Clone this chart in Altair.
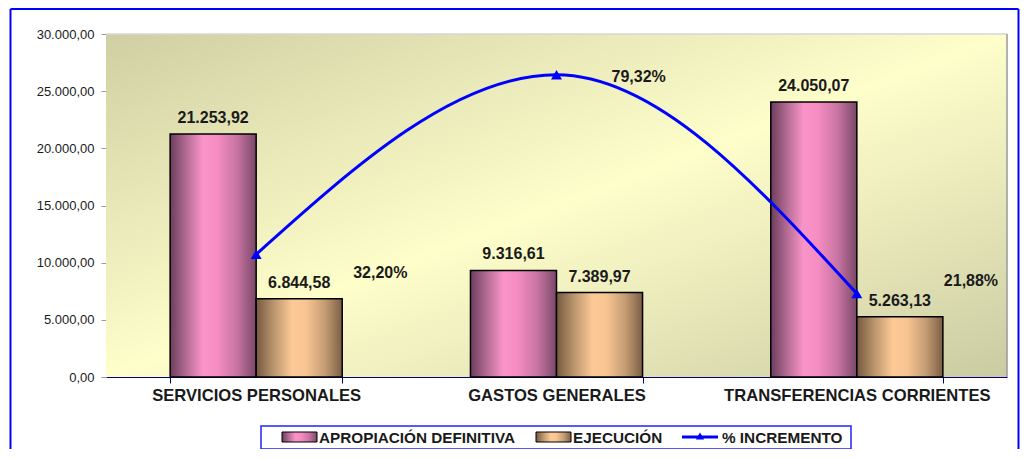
import altair as alt
import pandas as pd

categories = ["SERVICIOS PERSONALES", "GASTOS GENERALES", "TRANSFERENCIAS CORRIENTES"]
apropiacion = [21253.92, 9316.61, 24050.07]
ejecucion = [6844.58, 7389.97, 5263.13]
incremento = [32.20, 79.32, 21.88]
series_names = ["APROPIACIÓN DEFINITIVA", "EJECUCIÓN", "% INCREMENTO"]
y_ticks = [0, 5000, 10000, 15000, 20000, 25000, 30000]

W, H = 901, 343
FONT = "Liberation Sans"
TXT = "#1a1a1a"

rows = []
for c, a, e in zip(categories, apropiacion, ejecucion):
    rows.append({"categoria": c, "serie": series_names[0], "valor": a})
    rows.append({"categoria": c, "serie": series_names[1], "valor": e})
bars_df = pd.DataFrame(rows)
pct_df = pd.DataFrame({"categoria": categories, "pct": incremento})
dummy = pd.DataFrame({"k": [0]})

es_num = ("replace(replace(replace(format({v}, ',.2f'), regexp(',', 'g'), '_'), "
          "regexp('[.]', 'g'), ','), regexp('_', 'g'), '.')")

pink_grad = {"gradient": "linear", "x1": 0, "y1": 0, "x2": 1, "y2": 0,
             "stops": [{"offset": 0, "color": "#6c3d5c"},
                       {"offset": 0.18, "color": "#b06a92"},
                       {"offset": 0.38, "color": "#fa94c8"},
                       {"offset": 0.55, "color": "#f58cc2"},
                       {"offset": 0.78, "color": "#c774a2"},
                       {"offset": 1, "color": "#7a4868"}]}
tan_grad = {"gradient": "linear", "x1": 0, "y1": 0, "x2": 1, "y2": 0,
            "stops": [{"offset": 0, "color": "#765940"},
                      {"offset": 0.2, "color": "#b9946c"},
                      {"offset": 0.42, "color": "#fdca97"},
                      {"offset": 0.58, "color": "#f8c592"},
                      {"offset": 0.8, "color": "#c49c74"},
                      {"offset": 1, "color": "#7c5e45"}]}
bg_grad = {"gradient": "linear", "x1": 0, "y1": 0, "x2": 1, "y2": 1,
           "stops": [{"offset": 0, "color": "#cfcfa3"},
                     {"offset": 0.5, "color": "#fefecb"},
                     {"offset": 1, "color": "#cbcba3"}]}

x_enc = alt.X("categoria:N", sort=categories,
              scale=alt.Scale(domain=categories, paddingInner=0.427, paddingOuter=0.2135),
              axis=alt.Axis(title=None, labelFont=FONT, labelFontSize=16.6, labelFontWeight="bold",
                            labelColor=TXT, domainColor="#000080", tickColor="#000080",
                            tickSize=6, tickBand="extent", labelPadding=4, labelAngle=0,
                            labelLimit=0, grid=False))
xoff = alt.XOffset("serie:N", scale=alt.Scale(domain=series_names[:2]))
y_enc = alt.Y("valor:Q", scale=alt.Scale(domain=[0, 30000], nice=False),
              axis=alt.Axis(title=None, values=y_ticks, labelFont=FONT, labelFontSize=13,
                            labelColor=TXT, domainColor="#999999", tickColor="#999999",
                            tickSize=5, labelPadding=7, grid=False,
                            labelExpr=es_num.format(v="datum.value")))

base_bars = alt.Chart(bars_df)
pink = base_bars.transform_filter(alt.datum.serie == series_names[0]).mark_bar(
    fill=pink_grad, stroke="#000000", strokeWidth=1.5).encode(x=x_enc, xOffset=xoff, y=y_enc)
tan = base_bars.transform_filter(alt.datum.serie == series_names[1]).mark_bar(
    fill=tan_grad, stroke="#000000", strokeWidth=1.5).encode(x=x_enc, xOffset=xoff, y=y_enc)
labels = base_bars.transform_calculate(
    lbl=es_num.format(v="datum.valor")).mark_text(
    font=FONT, fontSize=16, fontWeight="bold", color=TXT, dy=-16, baseline="middle"
).encode(x=x_enc, xOffset=xoff, y=y_enc, text="lbl:N")
bar_group = alt.layer(pink, tan, labels)

y_pct = alt.Y("pct:Q", scale=alt.Scale(domain=[0, 90], nice=False), axis=None)
base_pct = alt.Chart(pct_df)
line = base_pct.mark_line(color="#0000ff", strokeWidth=3, interpolate="monotone").encode(
    x=x_enc, y=y_pct)
pts = base_pct.mark_point(shape="triangle-up", filled=True, color="#0000ff", size=120,
                          opacity=1).encode(x=x_enc, y=y_pct)
pct_offsets = [(97, 19), (55, 2), (87, -13)]
pct_layers = []
for cat, (dx, dy) in zip(categories, pct_offsets):
    pct_layers.append(
        base_pct.transform_filter(alt.datum.categoria == cat)
        .transform_calculate(lbl="replace(format(datum.pct, '.2f'), '.', ',') + '%'")
        .mark_text(font=FONT, fontSize=16, fontWeight="bold", color=TXT, align="left",
                   baseline="middle", dx=dx, dy=dy)
        .encode(x=x_enc, y=y_pct, text="lbl:N"))
line_group = alt.layer(line, pts, *pct_layers)

d = alt.Chart(dummy)
bg = d.mark_rect(fill=bg_grad).encode(x=alt.value(0), x2=alt.value(W), y=alt.value(0),
                                       y2=alt.value(H))
frame_top = d.mark_rule(color="#d6d6d6", strokeWidth=1.5).encode(
    x=alt.value(0), x2=alt.value(W), y=alt.value(0))
frame_right = d.mark_rule(color="#999999", strokeWidth=1.5).encode(
    x=alt.value(W), y=alt.value(0), y2=alt.value(H))

# legend
lg_box = d.mark_rect(fill="white", stroke="#2222ff", strokeWidth=1.5).encode(
    x=alt.value(155), x2=alt.value(745), y=alt.value(392), y2=alt.value(415))
lg_pink = d.mark_rect(fill=pink_grad, stroke="#000000", strokeWidth=1).encode(
    x=alt.value(176), x2=alt.value(211), y=alt.value(398), y2=alt.value(408))
lg_tan = d.mark_rect(fill=tan_grad, stroke="#000000", strokeWidth=1).encode(
    x=alt.value(430), x2=alt.value(465), y=alt.value(398), y2=alt.value(408))
lg_line = d.mark_rule(color="#0000ff", strokeWidth=3).encode(
    x=alt.value(576), x2=alt.value(612), y=alt.value(403))
lg_tri = d.mark_point(shape="triangle-up", filled=True, color="#0000ff", size=70,
                      opacity=1).encode(x=alt.value(594), y=alt.value(402))
lg_texts = []
for txt, xpos in zip(series_names, [213, 467, 616]):
    lg_texts.append(d.mark_text(text=txt, font=FONT, fontSize=15.3, fontWeight="bold",
                                color=TXT, align="left", baseline="middle").encode(
        x=alt.value(xpos), y=alt.value(403.5)))

border_l = d.mark_rule(color="#0000ff", strokeWidth=2).encode(
    x=alt.value(-95.5), y=alt.value(-25), y2=alt.value(420))
border_t = d.mark_rule(color="#0000ff", strokeWidth=2).encode(
    x=alt.value(-95.5), x2=alt.value(912.5), y=alt.value(-25))
border_r = d.mark_rule(color="#0000ff", strokeWidth=2).encode(
    x=alt.value(912.5), y=alt.value(-25), y2=alt.value(420))

chart = alt.layer(
    bg, bar_group, line_group, frame_top, frame_right,
    lg_box, lg_pink, lg_tan, lg_line, lg_tri, *lg_texts,
    border_l, border_t, border_r
).resolve_scale(y="independent").properties(
    width=W, height=H,
    padding={"left": 98, "top": 26, "right": 14, "bottom": 72},
    autosize=alt.AutoSizeParams(type="none"),
    background="white",
).configure_view(stroke=None)

chart.save("out.html", embed_options={"renderer": "svg", "actions": False})
